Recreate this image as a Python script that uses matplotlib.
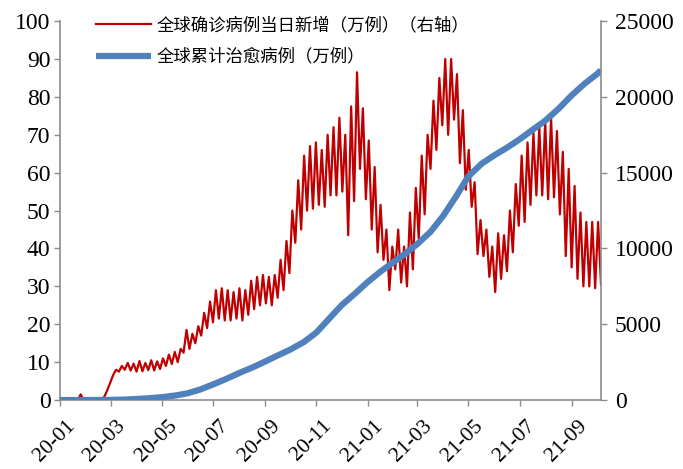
import matplotlib
matplotlib.use("Agg")
import matplotlib.pyplot as plt
import matplotlib.dates as mdates
import matplotlib.transforms as mtransforms
import numpy as np
import pandas as pd

# weekly troughs / peaks of global daily new cases (万例), week starts 2020-01-22
new_low = [0, 0, 0, 0, 0, 0.1, 0.2, 0.3, 2.5, 6.5,
           7.5, 8, 7.8, 7.5, 7.6, 7.9, 7.8, 8.2, 9, 9.5,
           10, 12.5, 13.5, 15, 17, 19, 20.5, 21.5, 21, 21,
           21.5, 21, 22.5, 24, 25, 25.5, 25, 27, 29, 33.5,
           41.5, 45, 50, 50.5, 51.5, 51, 54, 54, 55, 43.5,
           52.5, 61, 53, 45, 39, 37, 29, 34.5, 31, 30,
           34.5, 42.5, 49, 61, 66, 72.5, 70, 74, 62.5, 55.5,
           51, 38.5, 38, 32.5, 28.5, 32, 34, 39, 46, 47,
           51.5, 54, 54, 53, 53.5, 49, 38, 35, 32, 30,
           30, 29.5]
new_high = [0, 0, 0, 1.5, 0.2, 0.2, 0.3, 0.8, 4.5, 8,
            9, 9.8, 9.6, 10.3, 9.8, 10.5, 10.2, 11, 12, 12.7,
            13.5, 18.5, 17.5, 19.5, 23, 26, 29, 29.5, 29, 28.5,
            29.5, 29, 31.5, 32.5, 33, 32.5, 33, 37, 42, 50,
            58, 64.5, 67, 68, 66, 70, 72, 74.5, 70, 77.5,
            86.5, 77, 68.5, 61.5, 51.5, 45, 40.5, 45, 40.5, 49.5,
            56, 64.5, 70, 79, 85, 90, 90, 86, 76.5, 66,
            57.5, 47.5, 45, 40.5, 44, 43.5, 50, 57, 64.5, 68,
            70.5, 72, 73.5, 74.5, 71, 65.5, 61, 56.5, 49.5, 47,
            47, 47]
new_last = 30.5

# cumulative recovered (万例)
cured_dates = ["2020-01-22", "2020-02-07", "2020-02-22", "2020-03-07", "2020-03-22",
               "2020-04-07", "2020-04-22", "2020-05-07", "2020-05-22", "2020-06-07",
               "2020-06-22", "2020-07-07", "2020-07-22", "2020-08-07", "2020-08-22",
               "2020-09-07", "2020-09-22", "2020-10-07", "2020-10-22", "2020-11-07",
               "2020-11-22", "2020-12-07", "2020-12-22", "2021-01-07", "2021-01-22",
               "2021-02-07", "2021-02-22", "2021-03-07", "2021-03-22", "2021-04-07",
               "2021-04-22", "2021-05-07", "2021-05-22", "2021-06-07", "2021-06-22",
               "2021-07-07", "2021-07-22", "2021-08-07", "2021-08-22", "2021-09-07",
               "2021-09-22", "2021-10-07", "2021-10-22", "2021-10-27"]
cured = [0, 0, 2, 5, 10, 30, 70, 120, 190, 300,
         450, 700, 1030, 1400, 1780, 2150, 2540, 2940, 3330, 3820,
         4450, 5350, 6250, 7020, 7780, 8500, 9100, 9620, 10280, 11100,
         12150, 13400, 14750, 15600, 16150, 16650, 17200, 17850, 18450, 19250,
         20100, 20850, 21500, 21750]

tick_dates = ["2020-01-22", "2020-03-22", "2020-05-22", "2020-07-22", "2020-09-22",
              "2020-11-22", "2021-01-22", "2021-03-22", "2021-05-22", "2021-07-22",
              "2021-09-22"]

label_new = "全球确诊病例当日新增（万例）（右轴）"
label_cured = "全球累计治愈病例（万例）"

new_vals = []
for lo, hi in zip(new_low, new_high):
    new_vals += [lo, hi]
new_vals.append(new_last)
new_dates = pd.date_range("2020-01-22", periods=len(new_vals), freq="84h")
cured_dt = pd.to_datetime(cured_dates)

cjk = ["Noto Sans CJK SC", "DejaVu Sans"]
num_font = "Liberation Serif"
gray = "#8c8c8c"

fig = plt.figure(figsize=(6.83, 4.69), dpi=100)
ax = fig.add_axes([0.088, 0.147, 0.792, 0.808])
ax2 = ax.twinx()

l1, = ax.plot(new_dates, new_vals, color="#C00000", lw=1.6, label=label_new)
l2, = ax2.plot(cured_dt, cured, color="#4F81BD", lw=4.5, solid_capstyle="butt",
               solid_joinstyle="round", label=label_cured)

ax.set_ylim(0, 100)
ax.set_yticks(np.arange(0, 101, 10))
ax2.set_ylim(0, 25000)
ax2.set_yticks(np.arange(0, 25001, 5000))
ax.set_xlim(new_dates[0], new_dates[-1])

ax.set_xticks(pd.to_datetime(tick_dates))
ax.xaxis.set_major_formatter(mdates.DateFormatter("%y-%m"))

for a in (ax, ax2):
    a.spines["top"].set_visible(False)
    for s in ("left", "right", "bottom"):
        a.spines[s].set_color(gray)
        a.spines[s].set_linewidth(1.2)
    a.tick_params(colors=gray, width=1.0, length=4, direction="out")
ax.spines["right"].set_visible(False)
ax2.spines["left"].set_visible(False)
ax2.spines["bottom"].set_visible(False)

ax.tick_params(axis="y", labelsize=17, labelcolor="black", pad=3)
ax2.tick_params(axis="y", labelsize=17, labelcolor="black", pad=6)
ax.tick_params(axis="x", labelsize=15.5, labelcolor="black", pad=8)
# nudge rotated date labels a little right, like the reference
shift = mtransforms.ScaledTranslation(4 / 72, 0, fig.dpi_scale_trans)
for t in ax.get_yticklabels() + ax2.get_yticklabels():
    t.set_fontfamily(num_font)
for t in ax.get_xticklabels():
    t.set_fontfamily(num_font)
    t.set_rotation(45)
    t.set_ha("right")
    t.set_va("top")
    t.set_rotation_mode("anchor")
    t.set_transform(t.get_transform() + shift)

ax2.legend(handles=[l1, l2], loc="upper left", bbox_to_anchor=(0.066, 1.012),
           frameon=False, prop={"family": cjk, "size": 12.5}, handlelength=3.2,
           handletextpad=0.3, labelspacing=0.75, borderpad=0, borderaxespad=0)

fig.savefig("out.png", dpi=100)
